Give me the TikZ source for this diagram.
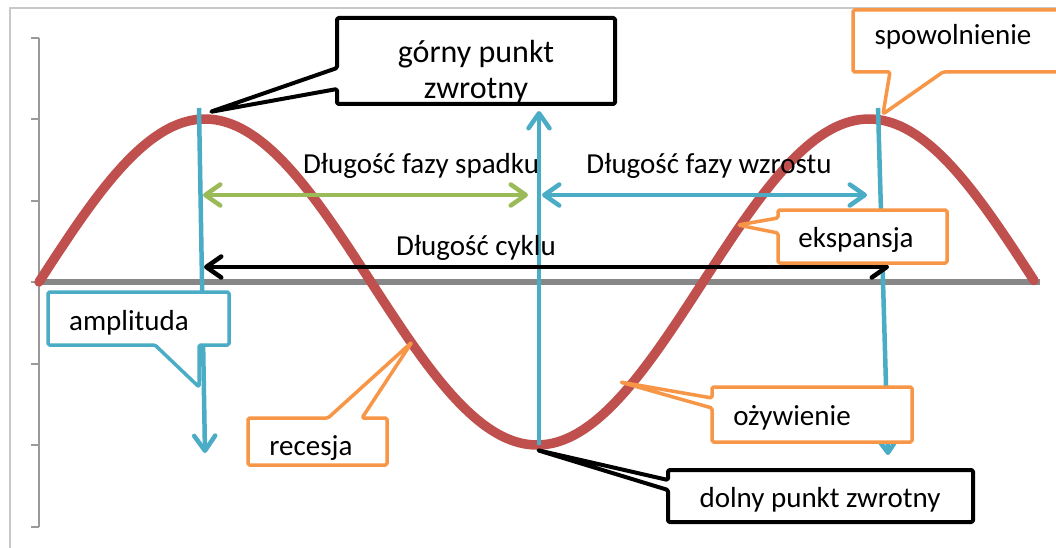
\documentclass[tikz,border=0pt]{standalone}
\usepackage{fontspec}
\setmainfont{Carlito}
\usetikzlibrary{arrows.meta}
\definecolor{cred}{HTML}{C0504D}
\definecolor{cblue}{HTML}{4BACC6}
\definecolor{cgreen}{HTML}{9BBB59}
\definecolor{corange}{HTML}{F79646}
\definecolor{caxis}{HTML}{878787}
\definecolor{cframe}{HTML}{C8C8C8}
\definecolor{cyax}{HTML}{9A9A9A}
\tikzset{
  barb/.tip={Straight Barb[length=15pt,width=21pt,round]},
  lbl/.style={font=\fontsize{29}{34}\selectfont, inner sep=0pt, anchor=base},
  callblack/.style={draw=black, line width=4pt, fill=white, rounded corners=1.5pt, line join=round},
  callorange/.style={draw=corange, line width=3.5pt, fill=white, rounded corners=1.5pt, line join=round},
  callblue/.style={draw=cblue, line width=3.5pt, fill=white, rounded corners=1.5pt, line join=round},
  vline/.style={draw=cblue, line width=4.5pt, -barb},
  harrow/.style={line width=4.5pt, barb-barb},
}
\begin{document}
\begin{tikzpicture}[x=1pt,y=-1pt]
\useasboundingbox (0,0) rectangle (1056,548);
\fill[white] (0,0) rectangle (1056,548);
% frame
\draw[cframe, line width=1.2pt] (10,548) -- (10,8) -- (1056,8);
% y axis
\draw[cyax, line width=1.6pt] (39,38) -- (39,527);
\foreach \yy in {38,119,201,282,364,445,527}
  \draw[cyax, line width=1.6pt] (31,\yy) -- (39,\yy);
% x axis
\draw[caxis, line width=6.5pt] (39,282) -- (1040,282);
% curve
\draw[cred, line width=9.5pt, line cap=round, smooth, domain=39:1034, samples=120]
  plot (\x, {282-163*sin((\x-39)/664*360)});
% coordinates
\coordinate (p1t) at (199,108);
\coordinate (p1b) at (205,453);
\coordinate (trb) at (539,445);
\coordinate (trt) at (539,111);
\coordinate (p2t) at (878,108);
\coordinate (p2b) at (888,455);
\coordinate (gL) at (203,195);
\coordinate (gR) at (528,195);
\coordinate (bL) at (542,195);
\coordinate (bR) at (867,195);
\coordinate (kL) at (204,267);
\coordinate (kR) at (889,267);
% vertical blue lines
\draw[vline] (p1t) -- (p1b);
\draw[vline] (trb) -- (trt);
\draw[vline] (p2t) -- (p2b);
% horizontal arrows
\draw[harrow, cgreen] (gL) -- (gR);
\draw[harrow, cblue] (bL) -- (bR);
\draw[harrow, black] (kL) -- (kR);
\node[lbl] (tspadek) at (421,173) {Długość fazy spadku};
\node[lbl] (twzrost) at (709,173) {Długość fazy wzrostu};
\node[lbl] (tcykl) at (476,255) {Długość cyklu};
% callouts
\path[callblack] (337,18) -- (615,18) -- (615,104) -- (337,104) -- (337,89) -- (210,112) -- (337,68) -- cycle;
\node[lbl, align=center, font=\fontsize{32}{36}\selectfont, anchor=center] (tgorny) at (476,72) {górny punkt\\zwrotny};
\path[callorange] (853,10) -- (1062,10) -- (1062,72) -- (943,72) -- (883,114) -- (890,72) -- (853,72) -- cycle;
\node[lbl] (tspow) at (953,45) {spowolnienie};
\path[callorange] (778,210) -- (947,210) -- (947,263) -- (778,263) -- (778,233) -- (738,225) -- (778,218) -- cycle;
\node[lbl] (teksp) at (856,247) {ekspansja};
\path[callblue] (48,292) -- (229,292) -- (229,345) -- (199,345) -- (199,387) -- (155,345) -- (48,345) -- cycle;
\node[lbl] (tampl) at (129,330) {amplituda};
\path[callorange] (248,418) -- (328,418) -- (412,342) -- (362,418) -- (387,418) -- (387,465) -- (248,465) -- cycle;
\node[lbl] (trec) at (311,455) {recesja};
\path[callorange] (712,387) -- (912,387) -- (912,442) -- (712,442) -- (712,408) -- (620,382) -- (712,398) -- cycle;
\node[lbl] (tozyw) at (792,425) {ożywienie};
\path[callblack] (668,470) -- (973,470) -- (973,522) -- (668,522) -- (668,490) -- (537,450) -- (668,480) -- cycle;
\node[lbl] (tdolny) at (820,507) {dolny punkt zwrotny};
\end{tikzpicture}
\end{document}
